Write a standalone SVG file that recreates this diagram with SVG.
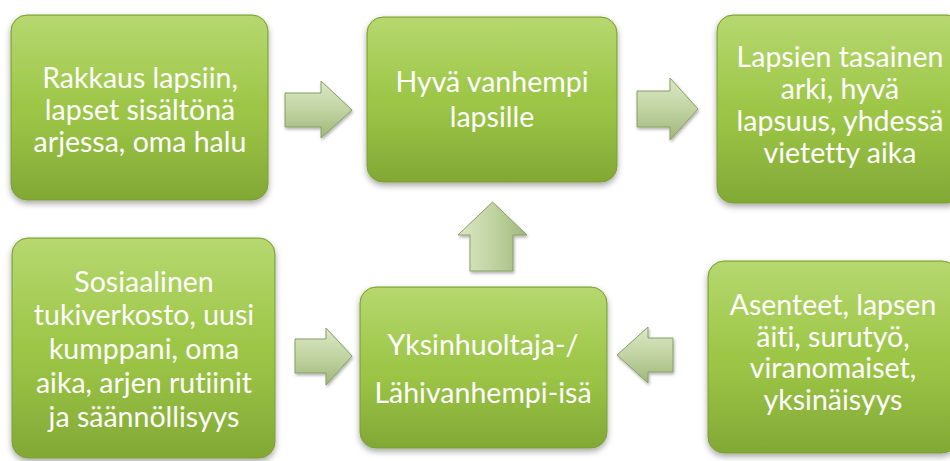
<svg xmlns="http://www.w3.org/2000/svg" width="950" height="461" viewBox="0 0 950 461">
  <defs>
    <linearGradient id="boxGrad" x1="0" y1="0" x2="0" y2="1">
      <stop offset="0" stop-color="#a6cf50"/>
      <stop offset="0.55" stop-color="#9cc546"/>
      <stop offset="1" stop-color="#82a835"/>
    </linearGradient>
    <linearGradient id="gloss" x1="0" y1="0" x2="0" y2="1">
      <stop offset="0" stop-color="#ffffff" stop-opacity="0.18"/>
      <stop offset="1" stop-color="#ffffff" stop-opacity="0"/>
    </linearGradient>
    <linearGradient id="arrowGrad" x1="0" y1="0" x2="0" y2="1">
      <stop offset="0" stop-color="#dbe8c6"/>
      <stop offset="0.5" stop-color="#c1d4a2"/>
      <stop offset="1" stop-color="#9fb77a"/>
    </linearGradient>
    <linearGradient id="arrowGradV" x1="0" y1="0" x2="1" y2="0">
      <stop offset="0" stop-color="#dbe8c6"/>
      <stop offset="0.5" stop-color="#c1d4a2"/>
      <stop offset="1" stop-color="#9fb77a"/>
    </linearGradient>
    <filter id="shadow" x="-10%" y="-10%" width="120%" height="125%">
      <feDropShadow dx="0" dy="3" stdDeviation="3" flood-color="#000" flood-opacity="0.35"/>
    </filter>
    <filter id="ashadow" x="-20%" y="-20%" width="140%" height="140%">
      <feDropShadow dx="1" dy="2" stdDeviation="1.5" flood-color="#000" flood-opacity="0.3"/>
    </filter>
  </defs>
  <style>
    .box { fill: url(#boxGrad); stroke: #7a9e33; stroke-width: 1; filter: url(#shadow); }
    .gloss { fill: url(#gloss); }
    .lbl { font-family: "Lato", "Open Sans", sans-serif; font-size: 28.5px; fill: #ffffff; text-anchor: middle; font-variant-ligatures: none; }
    .arr { fill: url(#arrowGrad); stroke: #86a065; stroke-width: 1; filter: url(#ashadow); }
    .arrv { fill: url(#arrowGradV); stroke: #86a065; stroke-width: 1; filter: url(#ashadow); }
  </style>
  <rect width="950" height="461" fill="#ffffff"/>

  <g id="connectors">
    <path class="arr" d="M285,93 H321 V81 L352,110 L321,138 V127 H285 Z"/>
    <path class="arr" d="M637,91 H670 V78 L698,109 L670,140 V127 H637 Z"/>
    <path class="arr" d="M295,339 H326 V328 L352,356 L326,385 V373 H295 Z"/>
    <path class="arr" d="M673,338 H648 V327 L617,355 L648,383 V372 H673 Z"/>
    <path class="arrv" d="M470,271 V235 H458 L492.5,202 L527,235 H513 V271 Z"/>
  </g>

  <g id="node-rakkaus">
    <rect class="box" x="11" y="15" width="257" height="185" rx="16"/>
    <rect class="gloss" x="12" y="16" width="255" height="90" rx="15"/>
    <text class="lbl"><tspan x="140" y="88">Rakkaus lapsiin,</tspan><tspan x="140" y="120">lapset sisältönä</tspan><tspan x="140" y="152">arjessa, oma halu</tspan></text>
  </g>

  <g id="node-hyva">
    <rect class="box" x="367" y="17" width="250" height="165" rx="16"/>
    <rect class="gloss" x="368" y="18" width="248" height="80" rx="15"/>
    <text class="lbl"><tspan x="492" y="92">Hyvä vanhempi</tspan><tspan x="492" y="127">lapsille</tspan></text>
  </g>

  <g id="node-lapsien">
    <rect class="box" x="717" y="15" width="246" height="188" rx="16"/>
    <rect class="gloss" x="718" y="16" width="244" height="92" rx="15"/>
    <text class="lbl"><tspan x="840" y="67">Lapsien tasainen</tspan><tspan x="840" y="99">arki, hyvä</tspan><tspan x="840" y="131">lapsuus, yhdessä</tspan><tspan x="840" y="163">vietetty aika</tspan></text>
  </g>

  <g id="node-sosiaalinen">
    <rect class="box" x="12" y="238" width="263" height="220" rx="16"/>
    <rect class="gloss" x="13" y="239" width="261" height="105" rx="15"/>
    <text class="lbl"><tspan x="144" y="292">Sosiaalinen</tspan><tspan x="144" y="325">tukiverkosto, uusi</tspan><tspan x="144" y="359">kumppani, oma</tspan><tspan x="144" y="393">aika, arjen rutiinit</tspan><tspan x="144" y="427">ja säännöllisyys</tspan></text>
  </g>

  <g id="node-yksinhuoltaja">
    <rect class="box" x="360" y="287" width="247" height="161" rx="16"/>
    <rect class="gloss" x="361" y="288" width="245" height="78" rx="15"/>
    <text class="lbl"><tspan x="483" y="355">Yksinhuoltaja-/</tspan><tspan x="483" y="403">Lähivanhempi-isä</tspan></text>
  </g>

  <g id="node-asenteet">
    <rect class="box" x="708" y="261" width="250" height="192" rx="16"/>
    <rect class="gloss" x="709" y="262" width="248" height="92" rx="15"/>
    <text class="lbl"><tspan x="833" y="315">Asenteet, lapsen</tspan><tspan x="833" y="347">äiti, surutyö,</tspan><tspan x="833" y="378">viranomaiset,</tspan><tspan x="833" y="410">yksinäisyys</tspan></text>
  </g>
</svg>
